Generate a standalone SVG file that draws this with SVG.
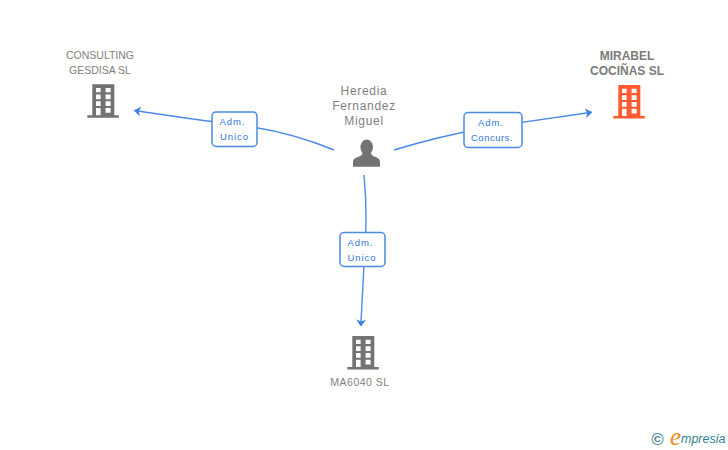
<svg xmlns="http://www.w3.org/2000/svg" width="728" height="450" viewBox="0 0 728 450">
<style>
text{font-family:"Liberation Sans",Arial,sans-serif}
.n{font-size:10.500px;fill:#7f7f7f;text-anchor:middle}
.p{font-size:12px;letter-spacing:.7px}
.b{font-weight:bold;font-size:12px;fill:#7b7b7b}
.l{font-size:9.500px;fill:#2f78e0;text-anchor:middle;letter-spacing:.9px}
.e{fill:none;stroke:#4a8ae6;stroke-width:1.4}
.box{fill:#fff;stroke:#4a8ae6;stroke-width:1.5}
</style>
<defs>
<marker id="a" viewBox="0 0 7 10" refX="6.500" refY="5" markerWidth="7" markerHeight="10" markerUnits="userSpaceOnUse" orient="auto"><path d="M0 0L7 5L0 10L2 5Z" fill="#3f83e4"/></marker>
<g id="bld">
<path fill-rule="evenodd" d="M5 0H27V31H31.500V33.500H0V31H5ZM8.700 3.700V8H13.300V3.700ZM18.300 3.700V8H23.300V3.700ZM8.700 10.300V15H13.300V10.300ZM18.300 10.300V15H23.300V10.300ZM8.700 17V21.700H13.300V17ZM18.300 17V21.700H23.300V17ZM8.700 23.700V31H13.300V23.700ZM18.300 23.700V28.500H23.300V23.700Z"/>
</g>
</defs>
<g id="connectors">
<path class="e" marker-end="url(#a)" d="M334 150Q290 132 245 126Q190 119 134.300 110.500"/>
<path class="e" marker-end="url(#a)" d="M394 150Q440 136 490 127Q540 120 591.700 112.300"/>
<path class="e" marker-end="url(#a)" d="M364 175Q368 215 364 265L360.800 326"/>
</g>
<g id="edge-left"><rect class="box" x="212" y="112" width="45" height="34.500" rx="4"/><text class="l" x="232.500" y="125">Adm.</text><text class="l" x="234.500" y="140">Unico</text></g>
<g id="edge-right"><rect class="box" x="464" y="112.500" width="58" height="35" rx="4"/><text class="l" x="491" y="126">Adm.</text><text class="l" x="492" y="141" style="letter-spacing:.5px">Concurs.</text></g>
<g id="edge-bottom"><rect class="box" x="340" y="232.500" width="45" height="34" rx="4"/><text class="l" x="360.500" y="246">Adm.</text><text class="l" x="362" y="261">Unico</text></g>
<g id="node-consulting"><text class="n" x="100" y="59">CONSULTING</text><text class="n" x="100" y="74">GESDISA SL</text><use href="#bld" x="87.300" y="84.300" fill="#737373"/></g>
<g id="node-person"><text class="n p" x="364" y="95">Heredia</text><text class="n p" x="364" y="110">Fernandez</text><text class="n p" x="364" y="125">Miguel</text>
<ellipse cx="366.700" cy="147" rx="6.300" ry="7.500" fill="#737373"/>
<path fill="#737373" d="M353 166.700V162C353 159 355 158 358 157C361 156 362.500 155 362.500 152H371C371 155 372.500 156 375.500 157C378 158 380 159 380 162V166.700Z"/></g>
<g id="node-mirabel"><text class="n b" x="627" y="60">MIRABEL</text><text class="n b" x="627" y="75">COCIÑAS SL</text><use href="#bld" x="613.300" y="85" fill="#ff5a30"/></g>
<g id="node-ma6040"><use href="#bld" x="347.300" y="336" fill="#737373"/><text class="n" x="360" y="386" style="letter-spacing:.5px">MA6040 SL</text></g>
<g id="brand"><text x="657.500" y="445" font-size="17" font-weight="bold" fill="#4f8a9c" text-anchor="middle">©</text><text x="670" y="445" font-size="25" font-style="italic" fill="#f08a1d" style="font-family:'Liberation Serif',serif">e</text><text x="681" y="443" font-size="12.500" font-style="italic" fill="#2f7f8f">mpresia</text></g>
</svg>
